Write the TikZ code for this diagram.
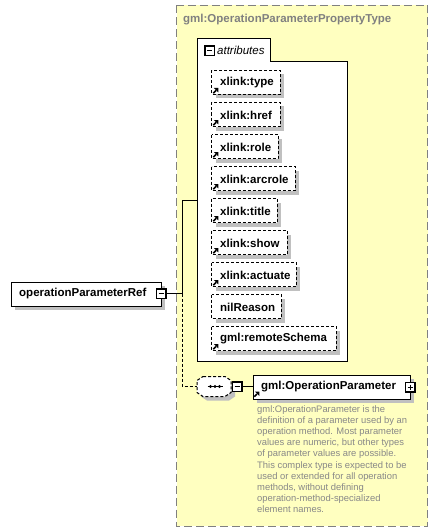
\documentclass[tikz,border=0pt]{standalone}
\usepackage{fontspec}
\setmainfont{Liberation Sans}
\definecolor{panel}{RGB}{255,255,192}
\definecolor{dashgrey}{RGB}{128,128,128}
\definecolor{shade}{RGB}{192,192,192}
\definecolor{note}{RGB}{136,136,136}
\tikzset{
  x=1pt,y=-1pt,
  boxlabel/.style={font=\fontsize{11.5}{13}\selectfont\bfseries,anchor=west,inner sep=0pt},
  shadowbox/.style={fill=shade,draw=none},
  attrbox/.style={draw=black,fill=white,line width=1pt,dash pattern=on 3pt off 2pt},
  solidbox/.style={draw=black,fill=white,line width=1pt},
  conn/.style={draw=black,line width=1pt},
  dashconn/.style={draw=black,line width=1pt,dash pattern=on 3pt off 2pt},
  toggle/.style={draw=black,fill=white,line width=1.5pt},
}
\newcommand{\togglebox}[3]{% name, x, y (top-left)
  \draw[toggle] (#2-0.25,#3-0.25) rectangle ++(9.5,9.5);
  \coordinate (#1) at (#2+4.5,#3+4.5);
  \draw[black,line width=1pt] (#2+2,#3+4.5) -- (#2+7,#3+4.5);
}
\newcommand{\refarrow}[2]{% lower-left corner of the mark
  \draw[black,line width=1.6pt] (#1+0.8,#2-0.8) -- (#1+3.5,#2-3.5);
  \fill[black] (#1+5.8,#2-6) -- (#1+5.8,#2-1.6) -- (#1+1.4,#2-6) -- cycle;
}
\newcommand{\attr}[5]{% name, label, top y, right x, ref?
  \fill[shadowbox] (215.5,#3+4) rectangle (#4+4,#3+28);
  \draw[attrbox] (211.5,#3) rectangle (#4,#3+24);
  \node[boxlabel] (#1) at (220,#3+12.5) {#2};
  \ifnum#5=1
    \refarrow{212.5}{#3+23.5}
  \fi
}
\begin{document}
\begin{tikzpicture}
\useasboundingbox (0,0) rectangle (438,532);
% outer type panel
\draw[fill=panel,draw=dashgrey,line width=1pt,dash pattern=on 8pt off 4pt] (176.5,5.5) rectangle (427.5,526);
\node[font=\fontsize{11.5}{13}\selectfont\bfseries,text=dashgrey,anchor=west,inner sep=0pt] (typename) at (183,19.5) {gml:OperationParameterPropertyType};
% attributes container
\draw[solidbox] (197.5,38.5) -- (270.5,38.5) -- (270.5,61.5) -- (347.5,61.5) -- (347.5,361.5) -- (197.5,361.5) -- cycle;
\togglebox{attrtoggle}{205}{46.5}
\node[font=\fontsize{11.5}{13}\selectfont\itshape,anchor=west,inner sep=0pt] (attrlabel) at (217,50.5) {attributes};
% attribute boxes
\attr{a1}{xlink:type}{70.5}{280}{1}
\attr{a2}{xlink:href}{102.5}{280}{1}
\attr{a3}{xlink:role}{134.5}{278}{1}
\attr{a4}{xlink:arcrole}{166.5}{295}{1}
\attr{a5}{xlink:title}{198.5}{277}{1}
\attr{a6}{xlink:show}{230.5}{287}{1}
\attr{a7}{xlink:actuate}{262.5}{296}{1}
\attr{a8}{nilReason}{294.5}{281}{0}
\attr{a9}{gml:remoteSchema}{326.5}{336}{1}
% connectors from the root
\coordinate (junction) at (182.5,293.5);
\coordinate (attrentry) at (197.5,200.5);
\coordinate (seqentry) at (197,386.5);
% root element
\fill[shadowbox] (14.5,285.5) rectangle (164.5,309.5);
\node[solidbox,minimum width=150pt,minimum height=24pt,inner sep=0pt,anchor=north west] (root) at (10.5,281.5) {};
\node[font=\fontsize{11.5}{13}\selectfont\bfseries,anchor=west,inner sep=0pt] (rootlabel) at (19,294) {operationParameterRef};
\togglebox{roottoggle}{156.5}{289}
\draw[conn] (roottoggle) ++(4.75,0) -- (junction);
\draw[conn] (junction) |- (attrentry);
\draw[dashconn] (junction) |- (seqentry);
% sequence compositor
\fill[shadowbox] (207,380.5) -- (229,380.5) -- (235,384.5) -- (235,396.5) -- (229,400.5) -- (207,400.5) -- (201,396.5) -- (201,384.5) -- cycle;
\draw[attrbox] (203,376.5) -- (225,376.5) -- (231,380.5) -- (231,392.5) -- (225,396.5) -- (203,396.5) -- (197,392.5) -- (197,380.5) -- cycle;
\draw[black,line width=1pt] (207.5,386.5) -- (222.5,386.5);
\foreach \px in {210.5,215,219.5}{\fill[black] (\px,386.5) circle (1.6);}
\togglebox{seqtoggle}{232.5}{382}
% element
\fill[shadowbox] (256.5,378.5) rectangle (414,402.5);
\node[solidbox,minimum width=157.5pt,minimum height=24pt,inner sep=0pt,anchor=north west] (elem) at (252.5,374.5) {};
\node[boxlabel] (elemlabel) at (261,387) {gml:OperationParameter};
\refarrow{253.5}{397.5}
\togglebox{elemtoggle}{405.5}{382.5}
\draw[black,line width=1pt] (410,384.5) -- (410,389.5);
\draw[conn] (seqtoggle) ++(4.75,0) -- (elem.west |- seqtoggle);
% description
\node[font=\fontsize{9.4}{11.1}\selectfont,text=note,align=left,anchor=north west,inner sep=0pt] (desc) at (257,405.5) {gml:OperationParameter is the\\definition of a parameter used by an\\operation method. Most parameter\\values are numeric, but other types\\of parameter values are possible.\\This complex type is expected to be\\used or extended for all operation\\methods, without defining\\operation-method-specialized\\element names.};
\end{tikzpicture}
\end{document}
